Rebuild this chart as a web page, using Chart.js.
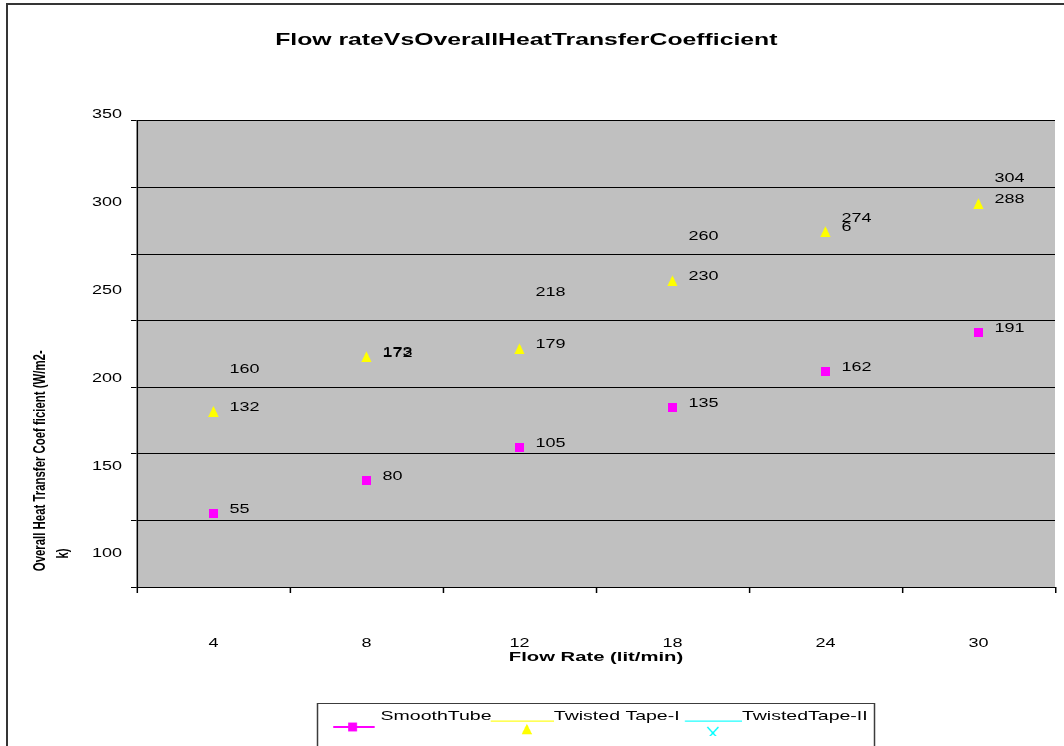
<!DOCTYPE html>
<html>
<head>
<meta charset="utf-8">
<title>Flow rate vs Overall Heat Transfer Coefficient</title>
<script src="https://cdn.jsdelivr.net/npm/chart.js@4.4.1/dist/chart.umd.min.js"></script>
<style>
  html, body { margin: 0; padding: 0; background: #ffffff; overflow: hidden; }
  #wrap { position: relative; width: 1064px; height: 746px; overflow: hidden; background: #ffffff; }
  #c { position: absolute; left: 0; top: 0; }
  #frame { position: absolute; left: 6px; top: 3px; width: 1200px; height: 900px;
           border: 2px solid #353535; pointer-events: none; }
</style>
</head>
<body>
<div id="wrap">
  <canvas id="c" width="709" height="746" style="width:1064px;height:746px"></canvas>
  <div id="frame"></div>
</div>
<script>
// ---- data ----
const flowRates = ['4', '8', '12', '18', '24', '30'];
const smoothTube = [55, 80, 105, 135, 162, 191];
const twistedTape1 = [132, 173, 179, 230, 267, 288];
const twistedTape1Labels = ['132', '173', '179', '230', '6', '288'];
const twistedTape2 = [160, 172, 218, 260, 274, 304];
const sideTickValues = [100, 150, 200, 250, 300, 350];
const seriesNames = ['SmoothTube', 'Twisted Tape-I', 'TwistedTape-II'];

// ---- drawing constants ----
const PAGE_W = 1064, PAGE_H = 746;
const LOGICAL_W = 709;                 // chart is laid out narrow, then widened
const SX = PAGE_W / LOGICAL_W;
const FONT = '"Liberation Sans", Arial, Helvetica, sans-serif';
const MAGENTA = '#FF00FF', YELLOW = '#FFFF00', CYAN = '#00FFFF';

// small hi-res images used as point styles (sizes given in page pixels)
function makeIcon(wPage, hPage, paint) {
  const R = 3;
  const c = document.createElement('canvas');
  c.width = Math.round(wPage * R);
  c.height = Math.round(hPage * R);
  const g = c.getContext('2d');
  g.scale(R, R);
  paint(g);
  const img = new Image(Math.round(wPage / SX), hPage);
  img.src = c.toDataURL();
  return img;
}

function tri(g, cx, cy, w, h, color) {
  g.fillStyle = color;
  g.beginPath();
  g.moveTo(cx, cy - h / 2);
  g.lineTo(cx + w / 2, cy + h / 2);
  g.lineTo(cx - w / 2, cy + h / 2);
  g.closePath();
  g.fill();
}

const squareMark = makeIcon(9, 9, g => { g.fillStyle = MAGENTA; g.fillRect(0, 0, 9, 9); });
const triangleMark = makeIcon(10.5, 11, g => tri(g, 5.25, 5.5, 10.5, 11, YELLOW));

// legend icons: 72 x 40 page px, icon start sits 9.75 px in
const legendSmooth = makeIcon(72, 40, g => {
  g.fillStyle = MAGENTA;
  g.fillRect(24.75, 30, 41.25, 2);
  g.fillRect(44 - 4.5, 31 - 4.5, 9, 9);
});
const legendTape1 = makeIcon(72, 40, g => {
  g.fillStyle = YELLOW;
  g.fillRect(9, 24.5, 63, 1.2);
  tri(g, 45, 33, 10.5, 10.5, YELLOW);
});
const legendTape2 = makeIcon(72, 40, g => {
  g.fillStyle = CYAN;
  g.fillRect(15, 24.5, 57, 1.2);
  g.strokeStyle = CYAN;
  g.lineWidth = 1.4;
  g.beginPath();
  g.moveTo(43 - 5.5, 37 - 6); g.lineTo(43 + 5.5, 37 + 6);
  g.moveTo(43 + 5.5, 37 - 6); g.lineTo(43 - 5.5, 37 + 6);
  g.stroke();
});
const legendIcons = [legendSmooth, legendTape1, legendTape2];

const labelSets = [smoothTube.map(String), twistedTape1Labels, twistedTape2.map(String)];

// ---- plugins ----
const widen = {
  id: 'widen',
  beforeDraw(chart) {
    const cv = chart.canvas;
    if (cv.width !== PAGE_W || cv.height !== PAGE_H) { cv.width = PAGE_W; cv.height = PAGE_H; }
    chart.ctx.setTransform(PAGE_W / chart.width, 0, 0, PAGE_H / chart.height, 0, 0);
  }
};

const plotBackground = {
  id: 'plotBackground',
  beforeDraw(chart) {
    const { ctx, chartArea: a } = chart;
    ctx.save();
    ctx.fillStyle = '#C0C0C0';
    ctx.fillRect(a.left, a.top, a.right - a.left, a.bottom - a.top);
    ctx.restore();
    // keep the legend row centred under the plot
    if (chart.legend) {
      chart.legend.left = a.left - 2;
      chart.legend.right = a.right - 2;
      chart.legend.top = 709.5;
    }
  }
};

const valueLabels = {
  id: 'valueLabels',
  afterDatasetsDraw(chart) {
    const ctx = chart.ctx;
    ctx.save();
    ctx.font = '12px ' + FONT;
    ctx.fillStyle = '#000000';
    ctx.textAlign = 'left';
    ctx.textBaseline = 'middle';
    chart.data.datasets.forEach((ds, i) => {
      const meta = chart.getDatasetMeta(i);
      meta.data.forEach((pt, j) => {
        ctx.fillText(labelSets[i][j], pt.x + 10.7, pt.y - 4);
      });
    });
    ctx.restore();
  }
};

const legendFrame = {
  id: 'legendFrame',
  afterDraw(chart) {
    const { ctx, chartArea: a } = chart;
    const cx = (a.left + a.right) / 2;
    const half = 278.5 / SX;
    ctx.save();
    ctx.strokeStyle = '#3c3c3c';
    ctx.lineWidth = 1;
    ctx.strokeRect(cx - half, 703.5, 2 * half, 80);
    ctx.restore();
  }
};

function build() {
  new Chart(document.getElementById('c'), {
    type: 'line',
    data: {
      labels: flowRates,
      datasets: [
        { label: seriesNames[0], data: smoothTube, showLine: false,
          pointStyle: squareMark, pointRadius: 5, borderColor: MAGENTA, backgroundColor: MAGENTA },
        { label: seriesNames[1], data: twistedTape1, showLine: false,
          pointStyle: triangleMark, pointRadius: 5, borderColor: YELLOW, backgroundColor: YELLOW },
        { label: seriesNames[2], data: twistedTape2, showLine: false,
          pointStyle: 'crossRot', pointRadius: 0, borderColor: CYAN, backgroundColor: CYAN }
      ]
    },
    options: {
      responsive: false,
      maintainAspectRatio: false,
      devicePixelRatio: 1,
      animation: false,
      events: [],
      layout: { padding: { left: 0, right: 3, top: 0, bottom: 0 } },
      plugins: {
        title: {
          display: true,
          text: 'Flow rateVsOverallHeatTransferCoefficient ',
          color: '#000000',
          font: { family: FONT, size: 16.5, weight: 'bold', lineHeight: 1.2 },
          padding: { top: 30.1, bottom: 71.1 }
        },
        legend: {
          display: true,
          position: 'bottom',
          labels: {
            usePointStyle: true,
            pointStyleWidth: 35,
            padding: 0,
            color: '#000000',
            font: { family: FONT, size: 13 },
            generateLabels(chart) {
              const items = Chart.defaults.plugins.legend.labels.generateLabels(chart);
              items.forEach((it, i) => { it.pointStyle = legendIcons[i]; it.fontColor = '#000000'; });
              return items;
            }
          }
        },
        tooltip: { enabled: false }
      },
      scales: {
        x: {
          type: 'category',
          offset: true,
          grid: { display: true, drawOnChartArea: false, offset: true, drawTicks: true,
                  tickLength: 6, color: '#000000', lineWidth: 1 },
          border: { display: true, color: '#000000', width: 1 },
          ticks: { color: '#000000', font: { family: FONT, size: 12 }, padding: 43,
                   maxRotation: 0, autoSkip: false },
          title: {
            display: true,
            text: 'Flow Rate (lit/min)',
            color: '#000000',
            font: { family: FONT, size: 13.5, weight: 'bold', lineHeight: 1.2 },
            padding: { top: -44.5, bottom: 57.9 }
          }
        },
        y: {
          type: 'linear',
          position: 'left',
          weight: 0,
          min: 0,
          max: 350,
          ticks: { stepSize: 50, display: false },
          grid: { display: true, color: '#000000', lineWidth: 1, drawTicks: true, tickLength: 4 },
          border: { display: true, color: '#000000', width: 1 },
          afterFit(scale) { scale.width = 4; }
        },
        y2: {
          type: 'linear',
          position: 'left',
          weight: 1,
          min: 81.2,
          max: 346.6,
          grid: { display: false, drawTicks: false },
          border: { display: false },
          ticks: { color: '#000000', font: { family: FONT, size: 12 }, padding: 6, autoSkip: false },
          afterBuildTicks(scale) { scale.ticks = sideTickValues.map(v => ({ value: v })); },
          afterFit(scale) { scale.width = 87.3; },
          title: {
            display: true,
            align: 'start',
            text: ['     Overall Heat Transfer Coef ficient (W/m2-', '         k)'],
            color: '#000000',
            font: { family: FONT, size: 11.4, weight: 'bold', lineHeight: 1.33 },
            padding: { top: 19.1, bottom: 0 }
          }
        }
      }
    },
    plugins: [widen, plotBackground, valueLabels, legendFrame]
  });
}

const allImages = [squareMark, triangleMark, legendSmooth, legendTape1, legendTape2];
Promise.all(allImages.map(im => im.decode().catch(() => null))).then(build);
</script>
</body>
</html>
